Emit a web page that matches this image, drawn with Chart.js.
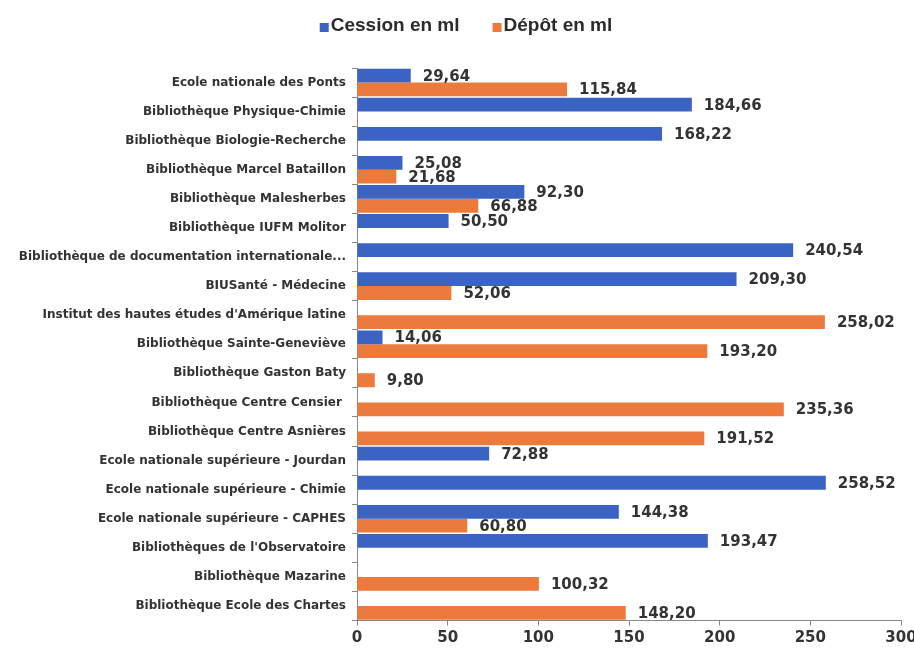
<!DOCTYPE html>
<html>
<head>
<meta charset="utf-8">
<script src="https://cdn.jsdelivr.net/npm/chart.js@4"></script>
<style>
html,body{margin:0;padding:0;background:#fff;}
#wrap{width:914px;height:650px;}
</style>
</head>
<body>
<div id="wrap"><canvas id="c" width="914" height="650"></canvas></div>
<script>
const categories = [
  "Ecole nationale des Ponts",
  "Bibliothèque Physique-Chimie",
  "Bibliothèque Biologie-Recherche",
  "Bibliothèque Marcel Bataillon",
  "Bibliothèque Malesherbes",
  "Bibliothèque IUFM Molitor",
  "Bibliothèque de documentation internationale...",
  "BIUSanté - Médecine",
  "Institut des hautes études d'Amérique latine",
  "Bibliothèque Sainte-Geneviève",
  "Bibliothèque Gaston Baty",
  "Bibliothèque Centre Censier ",
  "Bibliothèque Centre Asnières",
  "Ecole nationale supérieure - Jourdan",
  "Ecole nationale supérieure - Chimie",
  "Ecole nationale supérieure - CAPHES",
  "Bibliothèques de l'Observatoire",
  "Bibliothèque Mazarine",
  "Bibliothèque Ecole des Chartes"
];
const cessionValues = [29.64, 184.66, 168.22, 25.08, 92.30, 50.50, 240.54, 209.30, null, 14.06, null, null, null, 72.88, 258.52, 144.38, 193.47, null, null];
const depotValues = [115.84, null, null, 21.68, 66.88, null, null, 52.06, 258.02, 193.20, 9.80, 235.36, 191.52, null, null, 60.80, null, 100.32, 148.20];
const seriesNames = ["Cession en ml", "Dépôt en ml"];
const seriesColors = ["#3B63C4", "#EC7A3C"];
const xTicks = [0, 50, 100, 150, 200, 250, 300];

const valueLabels = {
  id: 'valueLabels',
  afterDatasetsDraw(chart) {
    const ctx = chart.ctx;
    ctx.save();
    ctx.font = 'bold 15px "DejaVu Sans"';
    ctx.fillStyle = '#333333';
    ctx.textAlign = 'left';
    ctx.textBaseline = 'middle';
    chart.data.datasets.forEach((ds, i) => {
      const meta = chart.getDatasetMeta(i);
      meta.data.forEach((bar, j) => {
        const v = ds.data[j];
        if (v === null || v === undefined) return;
        const txt = v.toFixed(2).replace('.', ',');
        ctx.fillText(txt, bar.x + 12, bar.y + 1);
      });
    });
    ctx.restore();
  }
};

const topLegend = {
  id: 'topLegend',
  afterDraw(chart) {
    const ctx = chart.ctx;
    ctx.save();
    ctx.font = 'bold 19px "Liberation Sans"';
    ctx.textBaseline = 'middle';
    ctx.textAlign = 'left';
    const box = 9, gapText = 2, gapItem = 33;
    const items = chart.data.datasets.map(ds => ({ label: ds.label, color: ds.backgroundColor, w: ctx.measureText(ds.label).width }));
    let total = 0;
    items.forEach((it, k) => { total += box + gapText + it.w + (k < items.length - 1 ? gapItem : 0); });
    let x = chart.width / 2 + 9 - total / 2;
    const y = 26;
    items.forEach(it => {
      ctx.fillStyle = it.color;
      ctx.fillRect(x, y - 3, box, box);
      x += box + gapText;
      ctx.fillStyle = '#2b2b2b';
      ctx.fillText(it.label, x, y);
      x += it.w + gapItem;
    });
    ctx.restore();
  }
};

new Chart(document.getElementById('c'), {
  type: 'bar',
  data: {
    labels: categories,
    datasets: [
      { label: seriesNames[0], data: cessionValues, backgroundColor: seriesColors[0], categoryPercentage: 0.95, barPercentage: 1.0 },
      { label: seriesNames[1], data: depotValues, backgroundColor: seriesColors[1], categoryPercentage: 0.95, barPercentage: 1.0 }
    ]
  },
  plugins: [valueLabels, topLegend],
  options: {
    indexAxis: 'y',
    responsive: false,
    animation: false,
    devicePixelRatio: 1,
    layout: { padding: { top: 68, right: 13, bottom: 0, left: 0 } },
    plugins: {
      legend: { display: false },
      tooltip: { enabled: false }
    },
    scales: {
      x: {
        min: 0, max: 300,
        afterBuildTicks(scale) { scale.ticks = xTicks.map(v => ({ value: v })); },
        afterFit(scale) { scale.paddingRight = 0; scale.paddingLeft = 0; },
        grid: { display: true, drawOnChartArea: false, drawTicks: true, tickLength: 5, color: '#888888' },
        border: { display: true, color: '#888888', width: 1 },
        ticks: { color: '#333333', font: { family: '"DejaVu Sans"', size: 15, weight: 'bold', lineHeight: 1.1 }, padding: 4 }
      },
      y: {
        afterFit(scale) { scale.width = 357; scale.paddingTop = 0; scale.paddingBottom = 0; },
        grid: { display: true, drawOnChartArea: false, drawTicks: true, tickLength: 5, color: '#888888' },
        border: { display: true, color: '#888888', width: 1 },
        ticks: { color: '#333333', font: { family: '"DejaVu Sans"', size: 12, weight: 'bold' }, padding: 6, autoSkip: false }
      }
    }
  }
});
</script>
</body>
</html>
